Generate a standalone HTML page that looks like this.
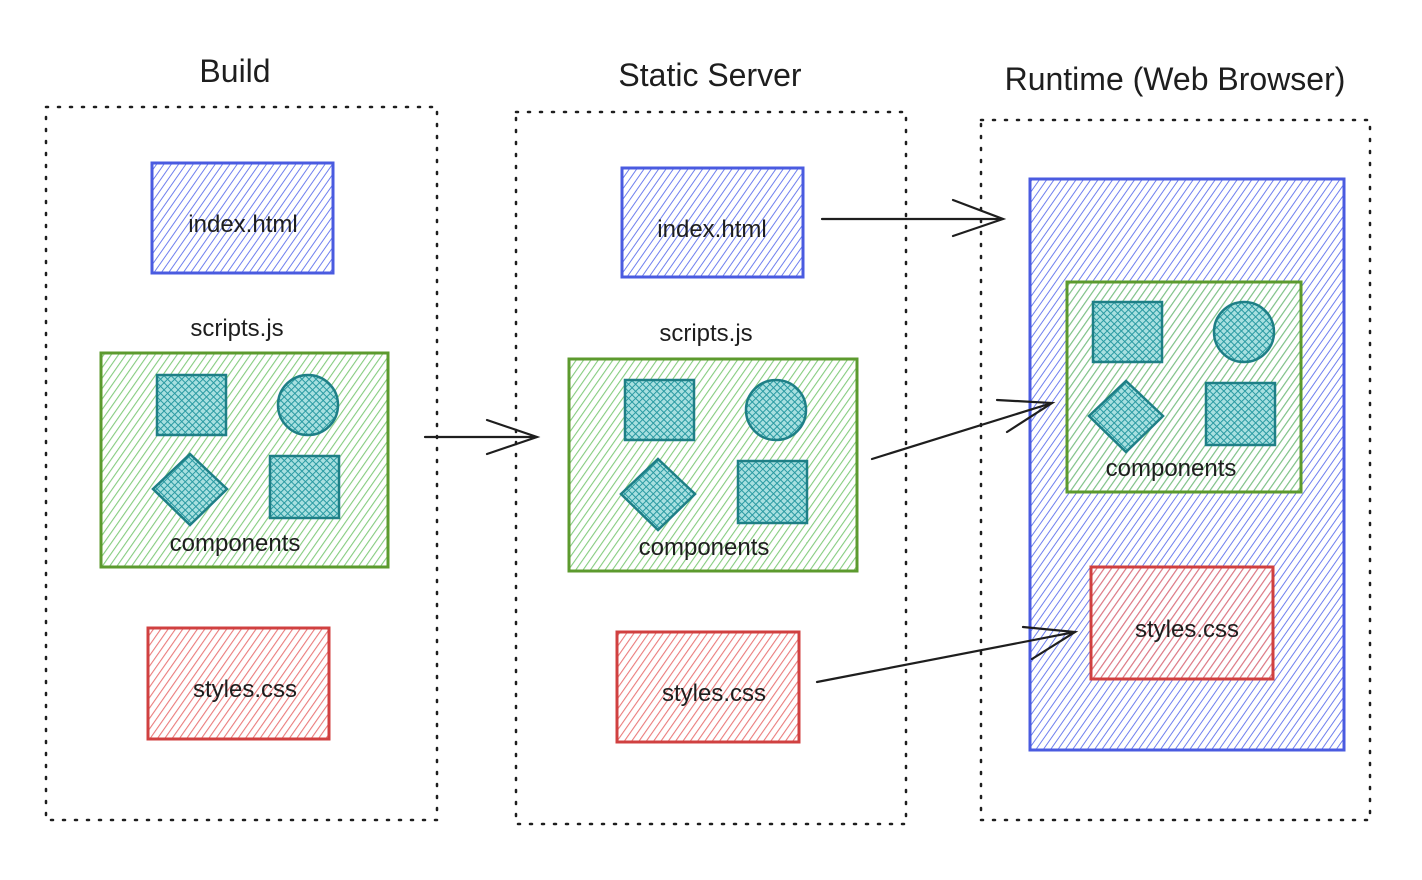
<!DOCTYPE html>
<html><head><meta charset="utf-8"><style>
html,body{margin:0;padding:0;background:#fff}
svg{display:block}
text{font-family:"Liberation Sans",sans-serif;fill:#1e1e1e}
</style></head><body>
<svg width="1422" height="880" viewBox="0 0 1422 880" xmlns="http://www.w3.org/2000/svg">
<defs>
<pattern id="hb" width="6" height="6" patternUnits="userSpaceOnUse" patternTransform="rotate(35)"><line x1="0" y1="0" x2="0" y2="6" stroke="#6f80ee" stroke-width="2"/></pattern>
<pattern id="hg" width="6" height="6" patternUnits="userSpaceOnUse" patternTransform="rotate(35)"><line x1="0" y1="0" x2="0" y2="6" stroke="#86cc80" stroke-width="2.2"/></pattern>
<pattern id="hr" width="6" height="6" patternUnits="userSpaceOnUse" patternTransform="rotate(35)"><line x1="0" y1="0" x2="0" y2="6" stroke="#ea7c7c" stroke-width="2.2"/></pattern>
<pattern id="hc" width="5" height="5" patternUnits="userSpaceOnUse" patternTransform="rotate(45)"><rect width="5" height="5" fill="#a8e0e0"/><line x1="0" y1="0" x2="0" y2="5" stroke="#2a9aa2" stroke-width="2"/><line x1="0" y1="0" x2="5" y2="0" stroke="#2a9aa2" stroke-width="2"/></pattern>
<g id="comps">
<rect x="0" y="0" width="69" height="60" fill="url(#hc)" stroke="#1e7f86" stroke-width="2.5"/>
<circle cx="151" cy="30" r="30" fill="url(#hc)" stroke="#1e7f86" stroke-width="2.5"/>
<polygon points="33,79 70,114 33,150 -4,114" fill="url(#hc)" stroke="#1e7f86" stroke-width="2.5"/>
<rect x="113" y="81" width="69" height="62" fill="url(#hc)" stroke="#1e7f86" stroke-width="2.5"/>
</g>
</defs>
<g fill="none" stroke="#1e1e1e" stroke-width="2.5" stroke-dasharray="2 10" stroke-linecap="round">
<rect x="46" y="107" width="391" height="713"/>
<rect x="516" y="112" width="390" height="712"/>
<rect x="981" y="120" width="389" height="700"/>
</g>
<g font-size="32" text-anchor="middle">
<text x="235" y="82">Build</text>
<text x="710" y="86">Static Server</text>
<text x="1175" y="90">Runtime (Web Browser)</text>
</g>
<rect x="152" y="163" width="181" height="110" fill="url(#hb)" stroke="#4a5be0" stroke-width="3"/>
<rect x="101" y="353" width="287" height="214" fill="url(#hg)" stroke="#5c9a2e" stroke-width="3"/>
<rect x="148" y="628" width="181" height="111" fill="url(#hr)" stroke="#d04040" stroke-width="3"/>
<use href="#comps" x="157" y="375"/>
<rect x="622" y="168" width="181" height="109" fill="url(#hb)" stroke="#4a5be0" stroke-width="3"/>
<rect x="569" y="359" width="288" height="212" fill="url(#hg)" stroke="#5c9a2e" stroke-width="3"/>
<rect x="617" y="632" width="182" height="110" fill="url(#hr)" stroke="#d04040" stroke-width="3"/>
<use href="#comps" x="625" y="380"/>
<rect x="1030" y="179" width="314" height="571" fill="url(#hb)" stroke="#4a5be0" stroke-width="3"/>
<rect x="1067" y="282" width="234" height="210" fill="url(#hg)" stroke="#5c9a2e" stroke-width="3"/>
<rect x="1091" y="567" width="182" height="112" fill="url(#hr)" stroke="#d04040" stroke-width="3"/>
<use href="#comps" x="1093" y="302"/>
<g font-size="24" text-anchor="middle">
<text x="243" y="232">index.html</text>
<text x="237" y="336">scripts.js</text>
<text x="235" y="551">components</text>
<text x="245" y="697">styles.css</text>
<text x="712" y="237">index.html</text>
<text x="706" y="341">scripts.js</text>
<text x="704" y="555">components</text>
<text x="714" y="701">styles.css</text>
<text x="1171" y="476">components</text>
<text x="1187" y="637">styles.css</text>
</g>
<g fill="none" stroke="#1e1e1e" stroke-width="2.2" stroke-linecap="round">
<path d="M425 437 L537 437 M487 420 L537 437 L487 454"/>
<path d="M822 219 L1003 219 M953 200 L1003 219 L953 236"/>
<path d="M872 459 L1052 403 M997 400 L1052 403 L1007 432"/>
<path d="M817 682 L1075 632 M1023 627 L1075 632 L1032 659"/>
</g>
</svg>
</body></html>
